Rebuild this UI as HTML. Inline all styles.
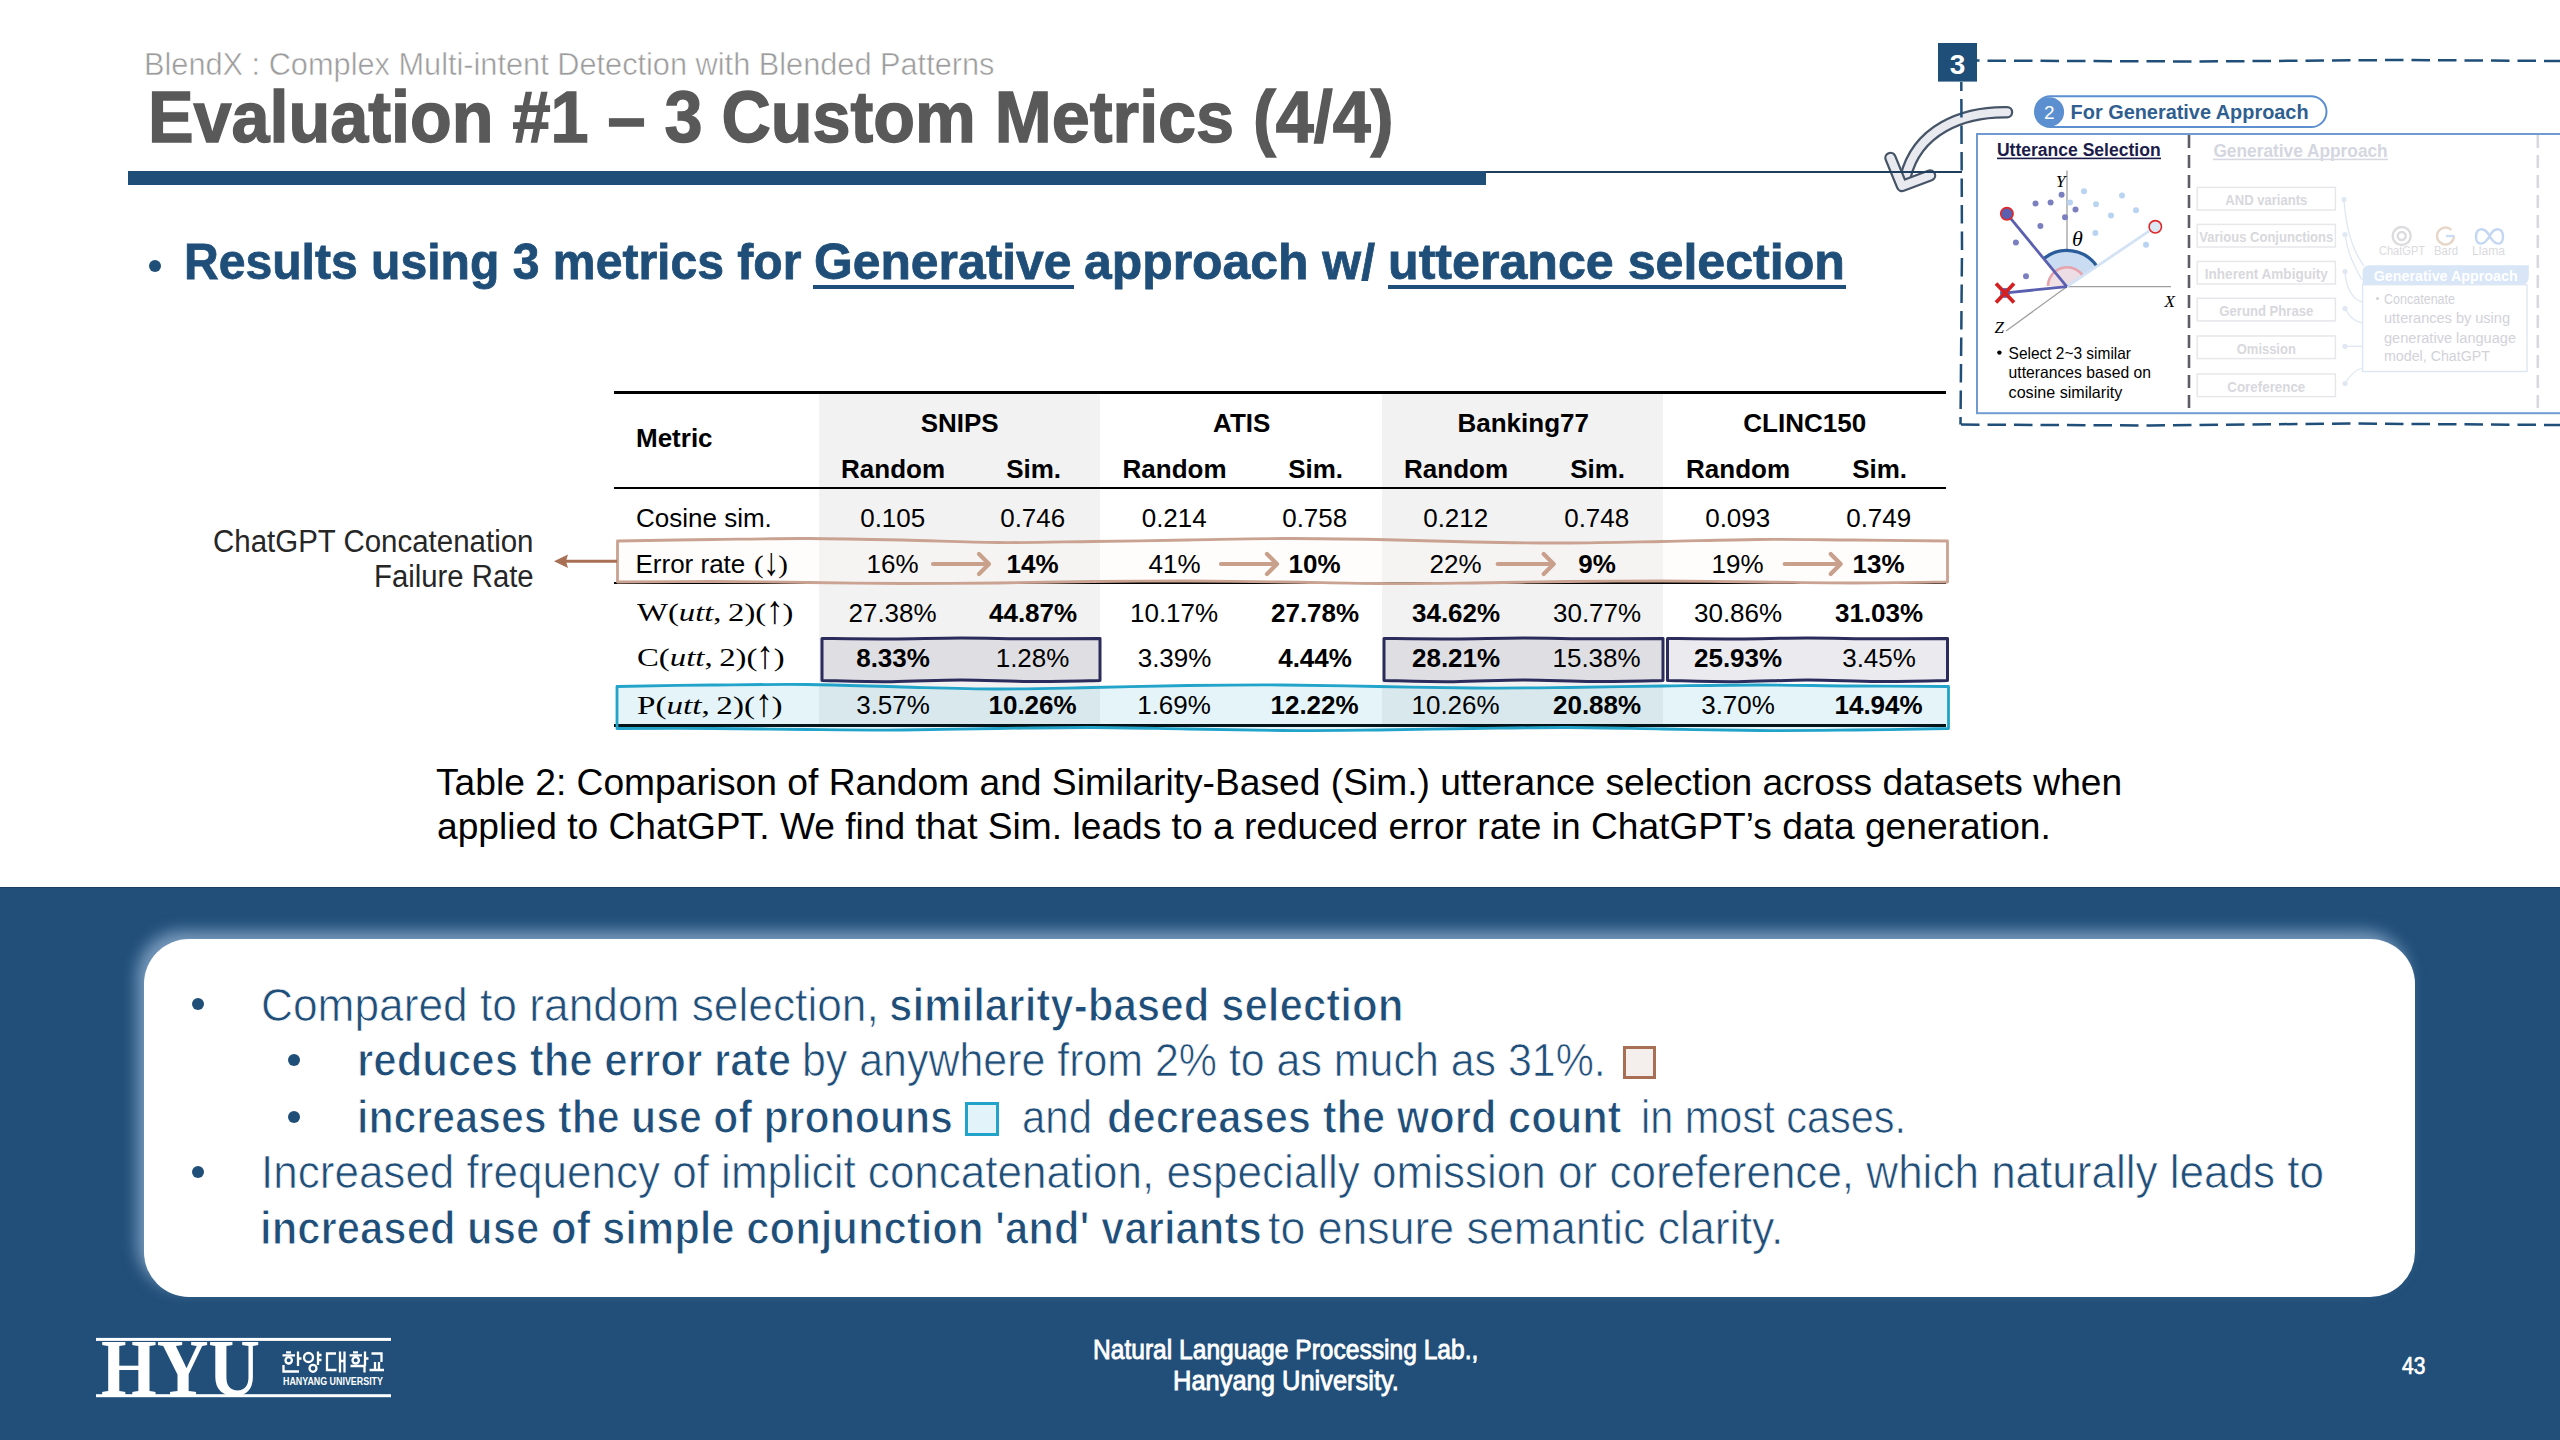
<!DOCTYPE html><html><head><meta charset="utf-8"><title>slide</title><style>
*{margin:0;padding:0;box-sizing:border-box}
html,body{width:2560px;height:1440px;overflow:hidden;background:#fff}
body{position:relative;font-family:"Liberation Sans",sans-serif}
.t{position:absolute;white-space:pre;line-height:1;transform-origin:0 0}
.r{position:absolute}
.ov{position:absolute;left:0;top:0}
</style></head><body>
<div class="r" style="left:0;top:887px;width:2560px;height:553px;background:#214f79;border-top:1px solid #1d3f63"></div>
<div class="r" style="left:143.5px;top:938.7px;width:2271.5px;height:358.3px;background:#fff;border-radius:45px;box-shadow:-7px -8px 15px 0px rgba(175,200,230,0.62)"></div>
<div class="r" style="left:128.00px;top:171.00px;width:1358.00px;height:14.00px;background:#1f4e79;"></div>
<div class="r" style="left:149px;top:259.6px;width:12px;height:12px;border-radius:50%;background:#1f4e79"></div>
<div class="r" style="left:813.00px;top:285.00px;width:261.00px;height:3.50px;background:#1f4e79;"></div>
<div class="r" style="left:1388.00px;top:285.00px;width:458.00px;height:3.50px;background:#1f4e79;"></div>
<div class="r" style="left:819.00px;top:394.00px;width:281.00px;height:331.00px;background:#f2f2f2;"></div>
<div class="r" style="left:1382.00px;top:394.00px;width:281.00px;height:331.00px;background:#f2f2f2;"></div>
<div class="r" style="left:613.50px;top:391.00px;width:1332.50px;height:3.00px;background:#000;"></div>
<div class="r" style="left:613.50px;top:487.00px;width:1332.50px;height:2.00px;background:#000;"></div>
<div class="r" style="left:613.50px;top:582.00px;width:1332.50px;height:2.00px;background:#000;"></div>
<div class="r" style="left:613.50px;top:724.00px;width:1332.50px;height:3.00px;background:#000;"></div>
<div class="r" style="left:191.80px;top:998.00px;width:12.00px;height:12.00px;background:#1f4e79;border-radius:50%"></div>
<div class="r" style="left:288.00px;top:1054.00px;width:12.00px;height:12.00px;background:#1f4e79;border-radius:50%"></div>
<div class="r" style="left:288.00px;top:1110.50px;width:12.00px;height:12.00px;background:#1f4e79;border-radius:50%"></div>
<div class="r" style="left:191.50px;top:1166.00px;width:12.00px;height:12.00px;background:#1f4e79;border-radius:50%"></div>
<div class="r" style="left:1622.80px;top:1045.60px;width:33.40px;height:33.40px;background:#f4eeec;border:3px solid #a86f55"></div>
<div class="r" style="left:965.30px;top:1101.90px;width:33.40px;height:34.00px;background:#e2f4f9;border:3px solid #22a3c9"></div>
<svg class="ov" width="2560" height="1440" viewBox="0 0 2560 1440">
<path d="M 617.5 541.0 C 633.3 540.8 680.8 539.9 712.5 539.5 C 744.2 539.1 775.8 538.4 807.5 538.5 C 839.2 538.6 870.8 539.3 902.5 540.0 C 934.2 540.7 965.8 542.2 997.5 542.5 C 1029.2 542.8 1060.8 541.9 1092.5 541.5 C 1124.2 541.1 1155.8 540.5 1187.5 540.0 C 1219.2 539.5 1250.8 538.6 1282.5 538.5 C 1314.2 538.4 1345.8 538.9 1377.5 539.5 C 1409.2 540.1 1440.8 541.4 1472.5 542.0 C 1504.2 542.6 1535.8 543.1 1567.5 543.0 C 1599.2 542.9 1630.8 542.1 1662.5 541.5 C 1694.2 540.9 1725.8 539.8 1757.5 539.5 C 1789.2 539.2 1820.8 539.8 1852.5 540.0 C 1884.2 540.2 1931.7 540.8 1947.5 541.0 L 1947.5 582.0 C 1931.7 582.2 1884.2 583.0 1852.5 583.0 C 1820.8 583.0 1789.2 582.3 1757.5 582.0 C 1725.8 581.7 1694.2 581.1 1662.5 581.0 C 1630.8 580.9 1599.2 581.2 1567.5 581.5 C 1535.8 581.8 1504.2 582.7 1472.5 583.0 C 1440.8 583.3 1409.2 583.7 1377.5 583.5 C 1345.8 583.3 1314.2 582.4 1282.5 582.0 C 1250.8 581.6 1219.2 581.1 1187.5 581.0 C 1155.8 580.9 1124.2 581.2 1092.5 581.5 C 1060.8 581.8 1029.2 582.7 997.5 583.0 C 965.8 583.3 934.2 583.6 902.5 583.5 C 870.8 583.4 839.2 582.8 807.5 582.5 C 775.8 582.2 744.2 581.6 712.5 581.5 C 680.8 581.4 633.3 581.9 617.5 582.0 Z" fill="rgba(255,250,247,0.35)" stroke="#c9a291" stroke-width="2.8" stroke-linejoin="round"/>
<path d="M 822.0 638.5 C 833.6 638.6 868.3 639.1 891.5 639.0 C 914.7 638.9 937.8 638.0 961.0 638.0 C 984.2 638.0 1007.3 638.7 1030.5 638.8 C 1053.7 638.9 1088.4 638.5 1100.0 638.5 L 1100.0 680.5 C 1088.4 680.7 1053.7 681.6 1030.5 681.5 C 1007.3 681.4 984.2 680.0 961.0 680.0 C 937.8 680.0 914.7 681.6 891.5 681.7 C 868.3 681.8 833.6 680.7 822.0 680.5 Z" fill="rgba(45,45,94,0.10)" stroke="#2b2b5c" stroke-width="3" stroke-linejoin="round"/>
<path d="M 1384.0 638.5 C 1395.6 638.6 1430.5 639.1 1453.8 639.0 C 1477.0 638.9 1500.2 638.0 1523.5 638.0 C 1546.8 638.0 1570.0 638.7 1593.2 638.8 C 1616.5 638.9 1651.4 638.5 1663.0 638.5 L 1663.0 680.5 C 1651.4 680.7 1616.5 681.6 1593.2 681.5 C 1570.0 681.4 1546.8 680.0 1523.5 680.0 C 1500.2 680.0 1477.0 681.6 1453.8 681.7 C 1430.5 681.8 1395.6 680.7 1384.0 680.5 Z" fill="rgba(45,45,94,0.10)" stroke="#2b2b5c" stroke-width="3" stroke-linejoin="round"/>
<path d="M 1667.5 638.5 C 1679.2 638.6 1714.2 639.1 1737.5 639.0 C 1760.8 638.9 1784.2 638.0 1807.5 638.0 C 1830.8 638.0 1854.2 638.7 1877.5 638.8 C 1900.8 638.9 1935.8 638.5 1947.5 638.5 L 1947.5 680.5 C 1935.8 680.7 1900.8 681.6 1877.5 681.5 C 1854.2 681.4 1830.8 680.0 1807.5 680.0 C 1784.2 680.0 1760.8 681.6 1737.5 681.7 C 1714.2 681.8 1679.2 680.7 1667.5 680.5 Z" fill="rgba(45,45,94,0.10)" stroke="#2b2b5c" stroke-width="3" stroke-linejoin="round"/>
<path d="M 617.0 686.5 C 632.9 686.2 680.4 685.3 712.1 685.0 C 743.8 684.7 775.5 684.2 807.2 684.5 C 838.9 684.8 870.6 686.2 902.3 687.0 C 934.0 687.8 965.7 688.9 997.4 689.0 C 1029.1 689.1 1060.8 688.1 1092.5 687.5 C 1124.2 686.9 1155.9 685.9 1187.6 685.5 C 1219.3 685.1 1251.0 684.8 1282.8 685.0 C 1314.5 685.2 1346.2 686.0 1377.9 686.5 C 1409.6 687.0 1441.3 687.8 1473.0 688.0 C 1504.7 688.2 1536.4 687.8 1568.1 687.5 C 1599.8 687.2 1631.5 686.4 1663.2 686.0 C 1694.9 685.6 1726.6 685.0 1758.3 685.0 C 1790.0 685.0 1821.7 685.8 1853.4 686.0 C 1885.1 686.2 1932.6 686.4 1948.5 686.5 L 1948.5 728.5 C 1932.6 728.8 1885.1 729.7 1853.4 730.0 C 1821.7 730.3 1790.0 730.7 1758.3 730.5 C 1726.6 730.3 1694.9 729.5 1663.2 729.0 C 1631.5 728.5 1599.8 727.6 1568.1 727.5 C 1536.4 727.4 1504.7 728.1 1473.0 728.5 C 1441.3 728.9 1409.6 729.7 1377.9 730.0 C 1346.2 730.3 1314.5 730.7 1282.8 730.5 C 1251.0 730.3 1219.3 729.5 1187.6 729.0 C 1155.9 728.5 1124.2 727.6 1092.5 727.5 C 1060.8 727.4 1029.1 728.1 997.4 728.5 C 965.7 728.9 934.0 729.8 902.3 730.0 C 870.6 730.2 838.9 729.8 807.2 729.5 C 775.5 729.2 743.8 728.7 712.1 728.5 C 680.4 728.3 632.9 728.5 617.0 728.5 Z" fill="rgba(34,163,201,0.12)" stroke="#22a3c9" stroke-width="2.8" stroke-linejoin="round"/>
<line x1="566" y1="561.3" x2="617" y2="561.3" stroke="#a86f55" stroke-width="3"/>
<path d="M554 561.3 L568 554.5 L566 561.3 L568 568 Z" fill="#a86f55"/>
<path d="M933.0 564 L988.0 564 M979.0 554 L989.0 564 L979.0 574" fill="none" stroke="#c9a08c" stroke-width="4.2" stroke-linecap="round" stroke-linejoin="round"/>
<path d="M1221.0 564 L1276.0 564 M1267.0 554 L1277.0 564 L1267.0 574" fill="none" stroke="#c9a08c" stroke-width="4.2" stroke-linecap="round" stroke-linejoin="round"/>
<path d="M1497.7 564 L1552.7 564 M1543.7 554 L1553.7 564 L1543.7 574" fill="none" stroke="#c9a08c" stroke-width="4.2" stroke-linecap="round" stroke-linejoin="round"/>
<path d="M1784.7 564 L1839.7 564 M1830.7 554 L1840.7 564 L1830.7 574" fill="none" stroke="#c9a08c" stroke-width="4.2" stroke-linecap="round" stroke-linejoin="round"/>
</svg>
<div class="t" style="left:144.02px;top:49.35px;font:normal 400 31px/1 'Liberation Sans', sans-serif;color:#9c9c9c;transform:scale(0.9911,1.0000);-webkit-text-stroke:0.5px #fff;">BlendX : Complex Multi-intent Detection with Blended Patterns</div>
<div class="t" style="left:148.20px;top:81.04px;font:normal 700 72px/1 'Liberation Sans', sans-serif;color:#595959;transform:scale(0.9491,1.0000);-webkit-text-stroke:1.4px #595959;">Evaluation #1 – 3 Custom Metrics (4/4)</div>
<div class="t" style="left:184.14px;top:237.24px;font:normal 700 50.5px/1 'Liberation Sans', sans-serif;color:#1f4e79;transform:scale(0.9525,1.0000);-webkit-text-stroke:0.8px #1f4e79;">Results using 3 metrics for</div>
<div class="t" style="left:813.63px;top:237.24px;font:normal 700 50.5px/1 'Liberation Sans', sans-serif;color:#1f4e79;transform:scale(0.9862,1.0000);-webkit-text-stroke:0.8px #1f4e79;">Generative</div>
<div class="t" style="left:1084.01px;top:237.24px;font:normal 700 50.5px/1 'Liberation Sans', sans-serif;color:#1f4e79;transform:scale(0.9877,1.0000);-webkit-text-stroke:0.8px #1f4e79;">approach w/</div>
<div class="t" style="left:1387.52px;top:237.24px;font:normal 700 50.5px/1 'Liberation Sans', sans-serif;color:#1f4e79;transform:scale(0.9929,1.0000);-webkit-text-stroke:0.8px #1f4e79;">utterance selection</div>
<div class="t" style="left:636.00px;top:425.49px;font:normal 700 26px/1 'Liberation Sans', sans-serif;color:#000;">Metric</div>
<div class="t" style="left:920.66px;top:409.99px;font:normal 700 26px/1 'Liberation Sans', sans-serif;color:#000;">SNIPS</div>
<div class="t" style="left:1213.12px;top:409.99px;font:normal 700 26px/1 'Liberation Sans', sans-serif;color:#000;">ATIS</div>
<div class="t" style="left:1457.49px;top:409.99px;font:normal 700 26px/1 'Liberation Sans', sans-serif;color:#000;">Banking77</div>
<div class="t" style="left:1743.32px;top:409.99px;font:normal 700 26px/1 'Liberation Sans', sans-serif;color:#000;">CLINC150</div>
<div class="t" style="left:841.06px;top:456.49px;font:normal 700 26px/1 'Liberation Sans', sans-serif;color:#000;">Random</div>
<div class="t" style="left:1006.16px;top:456.49px;font:normal 700 26px/1 'Liberation Sans', sans-serif;color:#000;">Sim.</div>
<div class="t" style="left:1122.56px;top:456.49px;font:normal 700 26px/1 'Liberation Sans', sans-serif;color:#000;">Random</div>
<div class="t" style="left:1288.16px;top:456.49px;font:normal 700 26px/1 'Liberation Sans', sans-serif;color:#000;">Sim.</div>
<div class="t" style="left:1404.06px;top:456.49px;font:normal 700 26px/1 'Liberation Sans', sans-serif;color:#000;">Random</div>
<div class="t" style="left:1570.16px;top:456.49px;font:normal 700 26px/1 'Liberation Sans', sans-serif;color:#000;">Sim.</div>
<div class="t" style="left:1686.06px;top:456.49px;font:normal 700 26px/1 'Liberation Sans', sans-serif;color:#000;">Random</div>
<div class="t" style="left:1852.16px;top:456.49px;font:normal 700 26px/1 'Liberation Sans', sans-serif;color:#000;">Sim.</div>
<div class="t" style="left:636.00px;top:504.99px;font:normal 400 26px/1 'Liberation Sans', sans-serif;color:#000;">Cosine sim.</div>
<div class="t" style="left:860.20px;top:504.99px;font:normal 400 26px/1 'Liberation Sans', sans-serif;color:#000;">0.105</div>
<div class="t" style="left:1000.20px;top:504.99px;font:normal 400 26px/1 'Liberation Sans', sans-serif;color:#000;">0.746</div>
<div class="t" style="left:1141.70px;top:504.99px;font:normal 400 26px/1 'Liberation Sans', sans-serif;color:#000;">0.214</div>
<div class="t" style="left:1282.20px;top:504.99px;font:normal 400 26px/1 'Liberation Sans', sans-serif;color:#000;">0.758</div>
<div class="t" style="left:1423.20px;top:504.99px;font:normal 400 26px/1 'Liberation Sans', sans-serif;color:#000;">0.212</div>
<div class="t" style="left:1564.20px;top:504.99px;font:normal 400 26px/1 'Liberation Sans', sans-serif;color:#000;">0.748</div>
<div class="t" style="left:1705.20px;top:504.99px;font:normal 400 26px/1 'Liberation Sans', sans-serif;color:#000;">0.093</div>
<div class="t" style="left:1846.20px;top:504.99px;font:normal 400 26px/1 'Liberation Sans', sans-serif;color:#000;">0.749</div>
<div class="t" style="left:635.50px;top:551.29px;font:normal 400 26px/1 'Liberation Sans', sans-serif;color:#000;">Error rate</div>
<div class="t" style="left:754.00px;top:551.53px;font:normal 400 26px/1 'Liberation Serif', serif;color:#000;transform:scale(1.1205,1.0000);">(<span style="display:inline-block;transform:scale(1.1,1.5) translateY(1px);transform-origin:50% 75%">&#8595;</span>)</div>
<div class="t" style="left:866.54px;top:551.29px;font:normal 400 26px/1 'Liberation Sans', sans-serif;color:#000;">16%</div>
<div class="t" style="left:1006.54px;top:551.29px;font:normal 700 26px/1 'Liberation Sans', sans-serif;color:#000;">14%</div>
<div class="t" style="left:1148.54px;top:551.29px;font:normal 400 26px/1 'Liberation Sans', sans-serif;color:#000;">41%</div>
<div class="t" style="left:1288.54px;top:551.29px;font:normal 700 26px/1 'Liberation Sans', sans-serif;color:#000;">10%</div>
<div class="t" style="left:1429.54px;top:551.29px;font:normal 400 26px/1 'Liberation Sans', sans-serif;color:#000;">22%</div>
<div class="t" style="left:1578.27px;top:551.29px;font:normal 700 26px/1 'Liberation Sans', sans-serif;color:#000;">9%</div>
<div class="t" style="left:1711.54px;top:551.29px;font:normal 400 26px/1 'Liberation Sans', sans-serif;color:#000;">19%</div>
<div class="t" style="left:1852.54px;top:551.29px;font:normal 700 26px/1 'Liberation Sans', sans-serif;color:#000;">13%</div>
<div class="t" style="left:848.47px;top:599.99px;font:normal 400 26px/1 'Liberation Sans', sans-serif;color:#000;">27.38%</div>
<div class="t" style="left:988.97px;top:599.99px;font:normal 700 26px/1 'Liberation Sans', sans-serif;color:#000;">44.87%</div>
<div class="t" style="left:1129.97px;top:599.99px;font:normal 400 26px/1 'Liberation Sans', sans-serif;color:#000;">10.17%</div>
<div class="t" style="left:1270.97px;top:599.99px;font:normal 700 26px/1 'Liberation Sans', sans-serif;color:#000;">27.78%</div>
<div class="t" style="left:1411.97px;top:599.99px;font:normal 700 26px/1 'Liberation Sans', sans-serif;color:#000;">34.62%</div>
<div class="t" style="left:1552.97px;top:599.99px;font:normal 400 26px/1 'Liberation Sans', sans-serif;color:#000;">30.77%</div>
<div class="t" style="left:1693.97px;top:599.99px;font:normal 400 26px/1 'Liberation Sans', sans-serif;color:#000;">30.86%</div>
<div class="t" style="left:1834.97px;top:599.99px;font:normal 700 26px/1 'Liberation Sans', sans-serif;color:#000;">31.03%</div>
<div class="t" style="left:856.20px;top:644.99px;font:normal 700 26px/1 'Liberation Sans', sans-serif;color:#000;">8.33%</div>
<div class="t" style="left:995.70px;top:644.99px;font:normal 400 26px/1 'Liberation Sans', sans-serif;color:#000;">1.28%</div>
<div class="t" style="left:1137.70px;top:644.99px;font:normal 400 26px/1 'Liberation Sans', sans-serif;color:#000;">3.39%</div>
<div class="t" style="left:1278.20px;top:644.99px;font:normal 700 26px/1 'Liberation Sans', sans-serif;color:#000;">4.44%</div>
<div class="t" style="left:1411.97px;top:644.99px;font:normal 700 26px/1 'Liberation Sans', sans-serif;color:#000;">28.21%</div>
<div class="t" style="left:1552.47px;top:644.99px;font:normal 400 26px/1 'Liberation Sans', sans-serif;color:#000;">15.38%</div>
<div class="t" style="left:1693.97px;top:644.99px;font:normal 700 26px/1 'Liberation Sans', sans-serif;color:#000;">25.93%</div>
<div class="t" style="left:1842.20px;top:644.99px;font:normal 400 26px/1 'Liberation Sans', sans-serif;color:#000;">3.45%</div>
<div class="t" style="left:856.20px;top:692.29px;font:normal 400 26px/1 'Liberation Sans', sans-serif;color:#000;">3.57%</div>
<div class="t" style="left:988.47px;top:692.29px;font:normal 700 26px/1 'Liberation Sans', sans-serif;color:#000;">10.26%</div>
<div class="t" style="left:1137.20px;top:692.29px;font:normal 400 26px/1 'Liberation Sans', sans-serif;color:#000;">1.69%</div>
<div class="t" style="left:1270.47px;top:692.29px;font:normal 700 26px/1 'Liberation Sans', sans-serif;color:#000;">12.22%</div>
<div class="t" style="left:1411.47px;top:692.29px;font:normal 400 26px/1 'Liberation Sans', sans-serif;color:#000;">10.26%</div>
<div class="t" style="left:1552.97px;top:692.29px;font:normal 700 26px/1 'Liberation Sans', sans-serif;color:#000;">20.88%</div>
<div class="t" style="left:1701.20px;top:692.29px;font:normal 400 26px/1 'Liberation Sans', sans-serif;color:#000;">3.70%</div>
<div class="t" style="left:1834.47px;top:692.29px;font:normal 700 26px/1 'Liberation Sans', sans-serif;color:#000;">14.94%</div>
<div class="t" style="left:435.60px;top:764.25px;font:normal 400 37.5px/1 'Liberation Sans', sans-serif;color:#000;transform:scale(0.9914,1.0000);">Table 2: Comparison of Random and Similarity-Based (Sim.) utterance selection across datasets when</div>
<div class="t" style="left:437.01px;top:808.25px;font:normal 400 37.5px/1 'Liberation Sans', sans-serif;color:#000;transform:scale(0.9909,1.0000);">applied to ChatGPT. We find that Sim. leads to a reduced error rate in ChatGPT’s data generation.</div>
<div class="t" style="left:212.80px;top:526.45px;font:normal 400 31px/1 'Liberation Sans', sans-serif;color:#262626;transform:scale(0.9504,1.0000);">ChatGPT Concatenation</div>
<div class="t" style="left:374.11px;top:560.75px;font:normal 400 31px/1 'Liberation Sans', sans-serif;color:#262626;transform:scale(0.9456,1.0000);">Failure Rate</div>
<div class="t" style="left:261.47px;top:981.85px;font:normal 400 46px/1 'Liberation Sans', sans-serif;color:#1f4e79;transform:scale(0.9626,1.0000);-webkit-text-stroke:0.7px #fff;">Compared to random selection,</div>
<div class="t" style="left:888.79px;top:981.85px;font:normal 700 46px/1 'Liberation Sans', sans-serif;color:#1f4e79;transform:scale(0.9146,1.0000);-webkit-text-stroke:1.2px #fff;">similarity-based selection</div>
<div class="t" style="left:357.26px;top:1037.05px;font:normal 700 46px/1 'Liberation Sans', sans-serif;color:#1f4e79;transform:scale(0.9126,1.0000);-webkit-text-stroke:1.2px #fff;">reduces the error rate</div>
<div class="t" style="left:801.53px;top:1037.05px;font:normal 400 46px/1 'Liberation Sans', sans-serif;color:#1f4e79;transform:scale(0.9328,1.0000);-webkit-text-stroke:0.7px #fff;">by anywhere from 2% to as much as 31%.</div>
<div class="t" style="left:357.32px;top:1093.55px;font:normal 700 46px/1 'Liberation Sans', sans-serif;color:#1f4e79;transform:scale(0.8933,1.0000);-webkit-text-stroke:1.2px #fff;">increases the use of pronouns</div>
<div class="t" style="left:1022.39px;top:1093.55px;font:normal 400 46px/1 'Liberation Sans', sans-serif;color:#1f4e79;transform:scale(0.9116,1.0000);-webkit-text-stroke:0.7px #fff;">and</div>
<div class="t" style="left:1106.79px;top:1093.55px;font:normal 700 46px/1 'Liberation Sans', sans-serif;color:#1f4e79;transform:scale(0.9066,1.0000);-webkit-text-stroke:1.2px #fff;">decreases the word count</div>
<div class="t" style="left:1641.20px;top:1093.55px;font:normal 400 46px/1 'Liberation Sans', sans-serif;color:#1f4e79;transform:scale(0.9014,1.0000);-webkit-text-stroke:0.7px #fff;">in most cases.</div>
<div class="t" style="left:261.17px;top:1149.05px;font:normal 400 46px/1 'Liberation Sans', sans-serif;color:#1f4e79;transform:scale(0.9571,1.0000);-webkit-text-stroke:0.7px #fff;">Increased frequency of implicit concatenation, especially omission or coreference, which naturally leads to</div>
<div class="t" style="left:260.27px;top:1205.45px;font:normal 700 46px/1 'Liberation Sans', sans-serif;color:#1f4e79;transform:scale(0.9101,1.0000);-webkit-text-stroke:1.2px #fff;">increased use of simple conjunction &#x27;and&#x27; variants</div>
<div class="t" style="left:1268.00px;top:1205.45px;font:normal 400 46px/1 'Liberation Sans', sans-serif;color:#1f4e79;transform:scale(0.9709,1.0000);-webkit-text-stroke:0.7px #fff;">to ensure semantic clarity.</div>
<div class="t" style="left:1093.24px;top:1335.69px;font:normal 400 28px/1 'Liberation Sans', sans-serif;color:#fff;transform:scale(0.8778,1.0000);-webkit-text-stroke:0.9px #fff;">Natural Language Processing Lab.,</div>
<div class="t" style="left:1172.68px;top:1367.29px;font:normal 400 28px/1 'Liberation Sans', sans-serif;color:#fff;transform:scale(0.9093,1.0000);-webkit-text-stroke:0.9px #fff;">Hanyang University.</div>
<div class="t" style="left:2401.50px;top:1354.38px;font:normal 400 24px/1 'Liberation Sans', sans-serif;color:#fff;transform:scale(0.8729,1.0000);-webkit-text-stroke:0.7px #fff;">43</div>
<div class="t" style="left:637.00px;top:600.23px;font:normal 400 26px/1 'Liberation Serif', serif;color:#000;transform:scale(1.2584,1.0000);">W(<i>utt</i>,&#8201;2)(<span style="display:inline-block;transform:scale(1.1,1.5) translateY(1px);transform-origin:50% 75%">&#8593;</span>)</div>
<div class="t" style="left:637.00px;top:645.23px;font:normal 400 26px/1 'Liberation Serif', serif;color:#000;transform:scale(1.2607,1.0000);">C(<i>utt</i>,&#8201;2)(<span style="display:inline-block;transform:scale(1.1,1.5) translateY(1px);transform-origin:50% 75%">&#8593;</span>)</div>
<div class="t" style="left:637.00px;top:692.53px;font:normal 400 26px/1 'Liberation Serif', serif;color:#000;transform:scale(1.2740,1.0000);">P(<i>utt</i>,&#8201;2)(<span style="display:inline-block;transform:scale(1.1,1.5) translateY(1px);transform-origin:50% 75%">&#8593;</span>)</div>
<svg class="ov" width="2560" height="1440" viewBox="0 0 2560 1440" style="font-family:'Liberation Sans',sans-serif">


<rect x="1938" y="43" width="39" height="38.6" fill="#1f4e79"/>
<text x="1957.5" y="73.5" text-anchor="middle" fill="#fff" font-weight="700" font-size="28">3</text>

<g fill="none" stroke-linecap="round" stroke-linejoin="round">
<path d="M2007 112.2 C1962 111.5 1917 130 1905.5 177" stroke="#465468" stroke-width="12.5"/>
<path d="M2007 112.2 C1962 111.5 1917 130 1905.5 177" stroke="#e9eaef" stroke-width="8"/>
<path d="M1890.5 158 L1902 186 L1930 175.5" stroke="#465468" stroke-width="12.5"/>
<path d="M1890.5 158 L1902 186 L1930 175.5" stroke="#e9eaef" stroke-width="8"/>
</g>
<g fill="none" stroke="#1f4e79" stroke-width="2.5" stroke-dasharray="18.5 8">
<path d="M1977 60.6 L2200 61.5 L2400 60 L2560 61" stroke-dashoffset="16"/>
<path d="M1961.3 82 L1962 250 L1960.5 424.6" stroke-dashoffset="9.5"/>
<path d="M1961 424.6 L2150 425.5 L2350 423.5 L2560 425"/>
</g>
<rect x="1486" y="171" width="476" height="2" fill="#1f3d5c"/>

<rect x="2035" y="96.3" width="291.5" height="30.8" rx="15.4" fill="#fff" stroke="#5b8fd0" stroke-width="2"/>
<circle cx="2049.4" cy="111.9" r="14.7" fill="#5b8fd0"/>
<text x="2049.4" y="118.6" text-anchor="middle" fill="#fff" font-size="19">2</text>
<text x="2070.6" y="118.75" fill="#2f5f90" font-weight="700" font-size="21" textLength="238" lengthAdjust="spacingAndGlyphs">For Generative Approach</text>

<rect x="1977" y="134" width="600" height="279.2" fill="none" stroke="#6f9bd1" stroke-width="2"/>
<line x1="2189" y1="135" x2="2189" y2="413" stroke="#5e5a66" stroke-width="2.6" stroke-dasharray="13 7"/>
<line x1="2537.8" y1="135" x2="2537.8" y2="413" stroke="#d9d8de" stroke-width="2.6" stroke-dasharray="13 7"/>
<text x="1996.9" y="155.6" fill="#1c1c4a" font-weight="700" font-size="17.5" textLength="163.7" lengthAdjust="spacingAndGlyphs">Utterance Selection</text>
<rect x="1997" y="157.6" width="164" height="1.6" fill="#1c1c4a"/>
<text x="2213.4" y="156.6" fill="#d4d6e0" font-weight="700" font-size="17.5" textLength="174.3" lengthAdjust="spacingAndGlyphs">Generative Approach</text>
<rect x="2213" y="158.6" width="175" height="1.6" fill="#d8dae3"/>

<g stroke="#a0a0a0" stroke-width="1.3">
<line x1="2067" y1="170.4" x2="2067" y2="286.7"/>
<line x1="2066.8" y1="286.7" x2="2171" y2="286.7"/>
<line x1="2066.8" y1="286.7" x2="2006" y2="331"/>
</g>
<path d="M2066.8 286.7 L2044 258.5 A36.4 36.4 0 0 1 2097 266.4 Z" fill="#c9dcf2"/>
<path d="M2044 258.5 A36.4 36.4 0 0 1 2097 266.4" fill="none" stroke="#2a5d9a" stroke-width="3.2"/>
<path d="M2066.8 286.7 L2048 286 A19 19 0 0 1 2083 276 Z" fill="#f0dde3" opacity="0.9"/>
<path d="M2048 286 A19 19 0 0 1 2083 276" fill="none" stroke="#e6a3ad" stroke-width="2.6"/>
<g fill="#7b7fc0">
<circle cx="2061.6" cy="194.7" r="3"/><circle cx="2035.5" cy="203.4" r="3"/><circle cx="2050.6" cy="202.5" r="3"/>
<circle cx="2075.5" cy="209.5" r="3"/><circle cx="2065" cy="217.3" r="3"/><circle cx="2040.4" cy="226" r="3"/>
<circle cx="2015.9" cy="242.4" r="3"/><circle cx="2026" cy="276.3" r="3"/>
</g>
<g fill="#b9d3f3">
<circle cx="2084" cy="191.2" r="3"/><circle cx="2070" cy="202.5" r="3"/><circle cx="2096" cy="204.3" r="3"/>
<circle cx="2122" cy="195.6" r="3"/><circle cx="2136" cy="210.3" r="3"/><circle cx="2111" cy="215.5" r="3"/>
<circle cx="2095.4" cy="232.9" r="3"/><circle cx="2146" cy="244.7" r="3"/>
</g>
<line x1="2066.8" y1="286.7" x2="2155.3" y2="226.8" stroke="#d3e2f4" stroke-width="2.8"/>
<line x1="2066.8" y1="286.7" x2="2006.9" y2="213.8" stroke="#5a5fb0" stroke-width="2.8"/>
<line x1="2066.8" y1="286.7" x2="2006" y2="292.8" stroke="#5a5fb0" stroke-width="2.8"/>
<circle cx="2006.9" cy="213.8" r="6.2" fill="#5a5fb0" stroke="#e02828" stroke-width="1.6"/>
<circle cx="2155.3" cy="226.8" r="6.2" fill="#dce7f4" stroke="#e02828" stroke-width="1.6"/>
<circle cx="2005" cy="293" r="5" fill="#5a5fb0"/>
<path d="M1996 283.5 L2014 302.5 M2014 283.5 L1996 302.5" stroke="#d42020" stroke-width="3.8"/>
<g font-family="'Liberation Serif',serif" font-style="italic" fill="#000">
<text x="2056" y="186.9" font-size="17">Y</text>
<text x="2164.5" y="306.6" font-size="17">X</text>
<text x="1994.5" y="332.7" font-size="17">Z</text>
<text x="2072" y="246" font-size="22">&#952;</text>
</g>

<circle cx="1999.4" cy="352.6" r="2.2" fill="#000"/>
<g fill="#000" font-size="16.5">
<text x="2008.6" y="358.7" textLength="122.4" lengthAdjust="spacingAndGlyphs">Select 2~3 similar</text>
<text x="2008.6" y="377.8" textLength="142.4" lengthAdjust="spacingAndGlyphs">utterances based on</text>
<text x="2008.6" y="397.8" textLength="113.7" lengthAdjust="spacingAndGlyphs">cosine similarity</text>
</g>

<g fill="#fff" stroke="#e7e7eb" stroke-width="1.5">
<rect x="2197.2" y="187.4" width="138.2" height="22.6"/>
<rect x="2197.2" y="224.4" width="138.2" height="22.6"/>
<rect x="2197.2" y="261.4" width="138.2" height="22.6"/>
<rect x="2197.2" y="298.3" width="138.2" height="22.6"/>
<rect x="2197.2" y="336" width="138.2" height="22.6"/>
<rect x="2197.2" y="374" width="138.2" height="22.6"/>
</g>
<g fill="#d8d8dd" font-weight="700" font-size="15.5" text-anchor="middle">
<text x="2266.3" y="205" textLength="82" lengthAdjust="spacingAndGlyphs">AND variants</text>
<text x="2266.3" y="242" textLength="134" lengthAdjust="spacingAndGlyphs">Various Conjunctions</text>
<text x="2266.3" y="279" textLength="123" lengthAdjust="spacingAndGlyphs">Inherent Ambiguity</text>
<text x="2266.3" y="316" textLength="94" lengthAdjust="spacingAndGlyphs">Gerund Phrase</text>
<text x="2266.3" y="353.5" textLength="59" lengthAdjust="spacingAndGlyphs">Omission</text>
<text x="2266.3" y="391.5" textLength="78" lengthAdjust="spacingAndGlyphs">Coreference</text>
</g>
<g fill="none" stroke="#dfe8f3" stroke-width="1.3">
<path d="M2344 199.6 C2346 230 2352 250 2364 266"/>
<path d="M2345 234.6 C2348 255 2354 265 2362 280"/>
<path d="M2345 271.6 C2346 290 2354 300 2362 302"/>
<path d="M2345 308.6 C2350 318 2356 322 2362 323"/>
<path d="M2345 346.3 L2362 346.3"/>
<path d="M2345 383.5 C2350 375 2356 370 2362 368"/>
</g>
<g fill="#dfe8f3">
<circle cx="2344" cy="199.6" r="2.6"/><circle cx="2345" cy="234.6" r="2.6"/><circle cx="2345" cy="271.6" r="2.6"/>
<circle cx="2345" cy="308.6" r="2.6"/><circle cx="2345" cy="346.3" r="2.6"/><circle cx="2345" cy="383.5" r="2.6"/>
</g>

<g fill="none" stroke-width="2.4">
<circle cx="2401.7" cy="236" r="9" stroke="#dcdcdf"/>
<circle cx="2401.7" cy="236" r="4" stroke="#dcdcdf"/>
<path d="M2454 236 A8.5 8.5 0 1 1 2451.5 230" stroke="#e7d7c8"/>
<path d="M2446 236 L2454.5 236" stroke="#c9dcf2"/>
<path d="M2489.6 236 C2484 226 2476 228 2476 237 C2476 246 2484 246 2489.6 236 C2495 226 2503 228 2503 237 C2503 246 2495 246 2489.6 236" stroke="#c3d6f3"/>
</g>
<g fill="#dadadd" font-size="12.5">
<text x="2379" y="254.5" textLength="46" lengthAdjust="spacingAndGlyphs">ChatGPT</text>
<text x="2434" y="254.5" textLength="24" lengthAdjust="spacingAndGlyphs">Bard</text>
<text x="2472" y="254.5" textLength="33" lengthAdjust="spacingAndGlyphs">Llama</text>
</g>
<path d="M2362.6 284.7 L2362.6 272 Q2362.6 265.3 2370 265.3 L2528.8 265.3 L2528.8 277 Q2528.8 284.7 2521 284.7 Z" fill="#d8e6f7"/>
<text x="2445.7" y="280.5" text-anchor="middle" fill="#fff" font-weight="700" font-size="15.5" textLength="144" lengthAdjust="spacingAndGlyphs">Generative Approach</text>
<rect x="2362.6" y="284.7" width="164.4" height="86.8" fill="none" stroke="#dde7f3" stroke-width="1.4"/>
<g fill="#d2d2d9" font-size="15.5">
<circle cx="2377.5" cy="298.5" r="1.6"/>
<text x="2384" y="304" textLength="71" lengthAdjust="spacingAndGlyphs">Concatenate</text>
<text x="2384" y="323.4" textLength="126" lengthAdjust="spacingAndGlyphs">utterances by using</text>
<text x="2384" y="343" textLength="132" lengthAdjust="spacingAndGlyphs">generative language</text>
<text x="2384" y="361" textLength="106" lengthAdjust="spacingAndGlyphs">model, ChatGPT</text>
</g>
</svg>

<svg class="ov" width="2560" height="1440" viewBox="0 0 2560 1440">
<rect x="96" y="1337.9" width="295" height="3" fill="#fff"/>
<rect x="96" y="1394.2" width="295" height="3" fill="#fff"/>
<text x="101" y="1395" fill="#fff" font-family="'Liberation Serif',serif" font-weight="700" font-size="81" textLength="159" lengthAdjust="spacingAndGlyphs">HYU</text>
<g fill="none" stroke="#fff" stroke-width="2.3" stroke-linecap="butt">

<path d="M286 1352.3 L291 1352.3 M282.5 1355.3 L295 1355.3"/>
<circle cx="288.7" cy="1360.3" r="3.2"/>
<path d="M298 1351.5 L298 1366 M298 1358.5 L301.5 1358.5 M283.5 1365 L283.5 1371.5 L299 1371.5"/>

<circle cx="308.5" cy="1357.5" r="4.5"/>
<path d="M318 1351.5 L318 1365 M318 1355 L321.5 1355 M318 1360 L321.5 1360"/>
<circle cx="313" cy="1368.3" r="3.5"/>

<path d="M336 1353.5 L327 1353.5 L327 1370 L336.5 1370 M340 1351.5 L340 1372.5 M344.5 1351.5 L344.5 1372.5 M340 1361 L344.5 1361"/>

<path d="M353 1352.3 L358 1352.3 M349.5 1355.3 L362 1355.3"/>
<circle cx="355.7" cy="1360.3" r="3.2"/>
<path d="M365 1351.5 L365 1366 M365 1358.5 L368.5 1358.5 M350.5 1366 L364.5 1366 L364.5 1372.5"/>

<path d="M371.5 1353.5 L381.5 1353.5 L381.5 1362 M375 1362 L375 1369 M379 1362 L379 1369 M369.5 1370 L384 1370"/>
</g>
<text x="283" y="1385.1" fill="#fff" font-family="'Liberation Sans',sans-serif" font-weight="700" font-size="10.5" textLength="100" lengthAdjust="spacingAndGlyphs">HANYANG UNIVERSITY</text>
</svg>

</body></html>
